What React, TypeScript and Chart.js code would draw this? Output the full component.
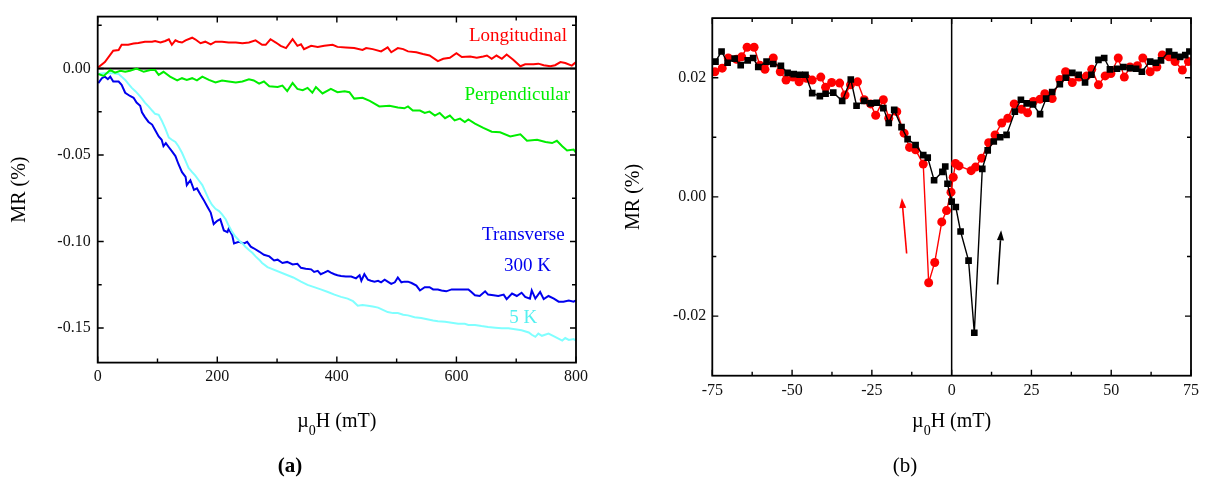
import React, { useEffect, useRef } from "react";
import { Chart, registerables } from "chart.js";

Chart.register(...registerables);

const SERIF = '"Liberation Serif", "Times New Roman", serif';

// ---------- Panel (a): MR vs field up to 800 mT ----------
const longitudinal: [number, number][] = [
  [0, 0.0004], [12, 0.0037], [26, 0.0103], [35, 0.0107], [40, 0.0137], [51, 0.0137], [60, 0.0144],
  [68, 0.0148], [79, 0.0155], [91, 0.0155], [96, 0.0159], [105, 0.015], [113, 0.0159], [119, 0.0169],
  [124, 0.0137], [130, 0.0163], [135, 0.0155], [141, 0.015], [147, 0.0163], [158, 0.0178], [163, 0.0169],
  [172, 0.0146], [180, 0.0155], [189, 0.014], [197, 0.0155], [208, 0.0155], [219, 0.015], [231, 0.015],
  [242, 0.0146], [253, 0.015], [264, 0.0163], [275, 0.0137], [281, 0.0137], [289, 0.0169], [298, 0.015],
  [306, 0.0131], [315, 0.0118], [326, 0.0169], [334, 0.0131], [340, 0.014], [345, 0.0112], [357, 0.0131],
  [368, 0.0125], [379, 0.0131], [393, 0.0137], [401, 0.0125], [415, 0.0122], [429, 0.0118], [443, 0.0107],
  [449, 0.0118], [460, 0.0112], [474, 0.0099], [485, 0.0122], [491, 0.0094], [502, 0.0118], [511, 0.0112],
  [519, 0.0099], [533, 0.0094], [544, 0.0084], [555, 0.0075], [569, 0.0043], [578, 0.0056], [589, 0.0062],
  [600, 0.0088], [609, 0.0066], [623, 0.0069], [634, 0.0062], [645, 0.0069], [651, 0.0075], [659, 0.0056],
  [667, 0.0075], [676, 0.0056], [684, 0.0081], [695, 0.0051], [707, 0.0013], [715, 0.0024], [729, 0.0024],
  [737, 0.0028], [746, 0.0019], [757, 0.0013], [765, 0.0019], [774, 0.0037], [782, 0.0032], [793, 0.0017],
  [800, 0.0037],
];

const perpendicular: [number, number][] = [
  [1, -0.0032], [10, -0.0043], [21, -0.0009], [29, -0.0024], [38, -0.0013], [46, -0.0019], [54, -0.0013],
  [65, 0.0], [77, -0.0019], [88, -0.0009], [96, -0.0009], [102, -0.0037], [110, -0.0019], [121, -0.0047],
  [133, -0.0069], [141, -0.0056], [149, -0.0066], [158, -0.0056], [166, -0.0069], [175, -0.0047],
  [186, -0.0066], [197, -0.0081], [208, -0.0069], [219, -0.0075], [231, -0.0081], [242, -0.0075],
  [253, -0.0062], [261, -0.0069], [270, -0.0088], [278, -0.0075], [287, -0.0103], [301, -0.0107],
  [309, -0.0099], [317, -0.0131], [326, -0.0084], [334, -0.0118], [343, -0.0125], [351, -0.0112],
  [359, -0.014], [365, -0.0107], [376, -0.0144], [390, -0.0118], [401, -0.0137], [413, -0.0131],
  [421, -0.0137], [429, -0.0174], [443, -0.0169], [455, -0.0187], [471, -0.0219], [488, -0.0215],
  [502, -0.0225], [513, -0.023], [519, -0.0219], [527, -0.0243], [539, -0.0243], [547, -0.0257],
  [555, -0.0249], [564, -0.0272], [572, -0.0257], [581, -0.0287], [589, -0.0272], [597, -0.03],
  [606, -0.029], [614, -0.0309], [620, -0.0294], [631, -0.0318], [645, -0.0343], [659, -0.0365],
  [673, -0.0369], [690, -0.0393], [707, -0.038], [718, -0.0418], [735, -0.0412], [749, -0.0425],
  [760, -0.0431], [768, -0.0418], [777, -0.0449], [785, -0.0474], [796, -0.0468], [800, -0.0487],
];

const transverse300K: [number, number][] = [
  [1, -0.0084], [7, -0.0056], [12, -0.0047], [17, -0.0062], [21, -0.0047], [26, -0.0075], [35, -0.0075],
  [40, -0.0094], [46, -0.014], [54, -0.0159], [60, -0.0169], [65, -0.0197], [71, -0.0215], [74, -0.0253],
  [79, -0.0281], [85, -0.0309], [91, -0.0324], [96, -0.0356], [102, -0.0393], [107, -0.0412],
  [110, -0.0449], [114, -0.0431], [119, -0.0455], [124, -0.0478], [130, -0.0506], [135, -0.0552],
  [141, -0.0599], [147, -0.0627], [149, -0.0674], [155, -0.0646], [161, -0.0702], [166, -0.0693],
  [172, -0.073], [177, -0.0758], [183, -0.0796], [189, -0.0833], [194, -0.0899], [200, -0.088],
  [205, -0.0871], [211, -0.0936], [217, -0.0946], [219, -0.0927], [225, -0.0964], [228, -0.1011],
  [236, -0.1002], [245, -0.1011], [250, -0.1002], [256, -0.103], [261, -0.1039], [270, -0.1058],
  [278, -0.1077], [287, -0.1086], [295, -0.111], [301, -0.1105], [309, -0.1124], [317, -0.1118],
  [326, -0.1133], [334, -0.1129], [340, -0.1152], [348, -0.1157], [357, -0.1161], [362, -0.1176],
  [368, -0.117], [373, -0.1189], [379, -0.118], [385, -0.117], [390, -0.118], [396, -0.1189],
  [401, -0.1195], [407, -0.1199], [415, -0.1202], [424, -0.1202], [432, -0.1213], [438, -0.1195],
  [441, -0.1227], [446, -0.1189], [452, -0.1221], [457, -0.1227], [463, -0.1232], [469, -0.1227],
  [474, -0.1236], [480, -0.1221], [485, -0.1232], [491, -0.1245], [497, -0.1236], [502, -0.1208],
  [508, -0.1236], [513, -0.1232], [519, -0.1232], [525, -0.124], [533, -0.1255], [539, -0.1283],
  [547, -0.1264], [555, -0.1264], [561, -0.1277], [569, -0.1277], [575, -0.1283], [583, -0.1288],
  [592, -0.1277], [603, -0.1277], [614, -0.1277], [620, -0.1277], [625, -0.1292], [631, -0.1311],
  [639, -0.1315], [648, -0.1288], [653, -0.1307], [662, -0.1311], [670, -0.1315], [679, -0.1307],
  [684, -0.1333], [693, -0.1301], [701, -0.1315], [709, -0.1296], [715, -0.132], [723, -0.133],
  [726, -0.1283], [732, -0.133], [740, -0.1292], [746, -0.1333], [754, -0.1315], [763, -0.133],
  [771, -0.1348], [779, -0.1348], [788, -0.1341], [796, -0.1348], [800, -0.1341],
];

const transverse5K: [number, number][] = [
  [1, -0.0032], [10, -0.0028], [18, -0.0028], [26, -0.0028], [35, -0.0032], [40, -0.0047], [46, -0.0066],
  [51, -0.0088], [57, -0.0112], [63, -0.0131], [68, -0.015], [74, -0.0174], [79, -0.0197], [85, -0.0219],
  [91, -0.0243], [96, -0.0262], [102, -0.0268], [107, -0.03], [113, -0.0346], [119, -0.0399],
  [124, -0.0412], [130, -0.0425], [135, -0.0449], [141, -0.0487], [147, -0.0534], [152, -0.0575],
  [158, -0.0599], [163, -0.0618], [169, -0.0646], [175, -0.0674], [180, -0.0712], [186, -0.0758],
  [191, -0.0787], [197, -0.0811], [203, -0.0824], [208, -0.0843], [214, -0.0871], [219, -0.0908],
  [225, -0.0946], [231, -0.0974], [236, -0.0993], [242, -0.1011], [247, -0.103], [253, -0.1049],
  [259, -0.1067], [264, -0.1086], [270, -0.1105], [275, -0.1124], [284, -0.1148], [327, -0.1208],
  [340, -0.1232], [351, -0.1251], [362, -0.1264], [373, -0.1277], [385, -0.1292], [396, -0.1307],
  [407, -0.132], [418, -0.133], [427, -0.1345], [435, -0.1371], [443, -0.1367], [452, -0.1371],
  [460, -0.1376], [469, -0.1382], [477, -0.1395], [485, -0.1408], [494, -0.1414], [502, -0.1414],
  [511, -0.1423], [519, -0.1427], [530, -0.1438], [541, -0.1442], [553, -0.1451], [561, -0.1457],
  [569, -0.1461], [581, -0.1464], [592, -0.147], [603, -0.1476], [614, -0.1476], [620, -0.1483],
  [631, -0.1483], [642, -0.1489], [653, -0.1494], [665, -0.1498], [676, -0.1502], [687, -0.1502],
  [698, -0.1507], [709, -0.1513], [721, -0.1526], [726, -0.1539], [732, -0.1551], [737, -0.1532],
  [743, -0.1545], [754, -0.1532], [765, -0.1551], [777, -0.1573], [782, -0.1558], [788, -0.1569],
  [796, -0.1564], [800, -0.1573],
];

const aXRange = [0, 800];
const aYRange = [-0.17, 0.03];
const aXMajor = [0, 200, 400, 600, 800];
const aXMinor = [100, 300, 500, 700];
const aYMajor = [0, -0.05, -0.1, -0.15];
const aYMinor = [0.025, -0.025, -0.075, -0.125];

// ---------- Panel (b): low-field hysteresis ----------
const sweepUp: [number, number][] = [
  [-74.0, 0.0227], [-72.1, 0.0244], [-70.2, 0.0225], [-68.0, 0.0232], [-66.1, 0.0221], [-63.9, 0.0229],
  [-62.2, 0.0233], [-60.6, 0.0218], [-58.0, 0.0227], [-55.9, 0.0223], [-53.5, 0.022], [-51.4, 0.0208],
  [-49.5, 0.0206], [-47.6, 0.0205], [-45.8, 0.0205], [-43.7, 0.0174], [-41.3, 0.0169], [-39.5, 0.0173],
  [-37.1, 0.0175], [-34.3, 0.0161], [-31.6, 0.0197], [-29.8, 0.0153], [-27.4, 0.0161], [-25.4, 0.0157],
  [-23.5, 0.0158], [-21.4, 0.0149], [-19.7, 0.0124], [-18.0, 0.0146], [-15.7, 0.0117], [-13.8, 0.0097],
  [-11.3, 0.0087], [-8.9, 0.007], [-7.5, 0.0066], [-5.5, 0.0028], [-2.9, 0.0042], [-2.0, 0.0051],
  [-1.3, 0.0022], [0.0, -0.0008], [1.3, -0.0017], [2.8, -0.0058], [5.3, -0.0107], [7.1, -0.0228],
  [9.6, 0.0047], [11.3, 0.0078], [13.2, 0.0093], [15.2, 0.01], [17.2, 0.0104], [19.8, 0.0143],
  [21.7, 0.0163], [23.5, 0.0157], [25.5, 0.0155], [27.7, 0.0139], [29.6, 0.0165], [31.5, 0.0176],
  [33.9, 0.0189], [35.8, 0.02], [37.8, 0.0208], [39.8, 0.0205], [41.8, 0.0192], [43.8, 0.0205],
  [46.0, 0.023], [47.8, 0.0233], [49.6, 0.0214], [51.8, 0.0215], [53.8, 0.0218], [55.9, 0.0216],
  [57.8, 0.0215], [59.6, 0.021], [62.2, 0.0227], [64.0, 0.0225], [65.6, 0.0229], [68.1, 0.0244],
  [69.8, 0.0238], [71.6, 0.0235], [73.2, 0.0238], [74.5, 0.0244],
];

const sweepDown: [number, number][] = [
  [74.2, 0.0227], [72.3, 0.0213], [70.0, 0.0227], [68.1, 0.0235], [66.0, 0.0238], [64.3, 0.0218],
  [62.2, 0.021], [59.9, 0.0233], [58.2, 0.022], [55.9, 0.0218], [54.1, 0.0201], [52.2, 0.0233],
  [49.9, 0.0207], [48.1, 0.0203], [46.0, 0.0188], [43.9, 0.0214], [42.3, 0.0203], [39.9, 0.0201],
  [37.8, 0.0192], [35.7, 0.021], [33.9, 0.0197], [31.5, 0.0165], [29.2, 0.0173], [27.7, 0.0164],
  [25.6, 0.016], [23.8, 0.0141], [21.9, 0.0147], [19.6, 0.0156], [17.6, 0.0132], [15.7, 0.0124],
  [13.6, 0.0104], [11.6, 0.0091], [9.4, 0.0065], [7.5, 0.005], [6.1, 0.0044], [2.3, 0.0052],
  [1.2, 0.0056], [0.5, 0.0033], [-0.2, 0.0008], [-1.6, -0.0023], [-3.1, -0.0042], [-5.3, -0.011],
  [-7.2, -0.0144], [-8.9, 0.0055], [-11.3, 0.0079], [-13.2, 0.0083], [-14.9, 0.0107], [-17.2, 0.0143],
  [-19.7, 0.0132], [-21.4, 0.0163], [-23.8, 0.0137], [-25.4, 0.0156], [-27.4, 0.0163], [-29.5, 0.0193],
  [-31.7, 0.0188], [-33.4, 0.0171], [-35.1, 0.0191], [-37.6, 0.0192], [-39.5, 0.0184], [-41.0, 0.0201],
  [-43.7, 0.0196], [-45.5, 0.0199], [-47.8, 0.0193], [-49.7, 0.0201], [-51.9, 0.0196], [-53.7, 0.021],
  [-55.9, 0.0233], [-58.5, 0.0214], [-60.1, 0.0221], [-61.9, 0.0251], [-64.1, 0.0251], [-65.8, 0.0235],
  [-67.4, 0.0231], [-70.0, 0.0233], [-71.9, 0.0216], [-74.2, 0.021],
];

const bXRange = [-75, 75];
const bYRange = [-0.03, 0.03];
const bXMajor = [-75, -50, -25, 0, 25, 50, 75];
const bXMinor = [-62.5, -37.5, -12.5, 12.5, 37.5, 62.5];
const bYMajor = [0.02, 0, -0.02];
const bYMinor = [0.01, -0.01];

// ---------- helpers ----------
const toXY = (arr: [number, number][]) => arr.map(([x, y]) => ({ x, y }));

const axisX = (range: number[], major: number[], fmt: (v: number) => string, height: number, pad: number) => ({
  type: "linear",
  position: "bottom",
  min: range[0],
  max: range[1],
  grid: { display: false, drawTicks: false },
  border: { display: false },
  afterBuildTicks: (s: any) => {
    s.ticks = major.map((v) => ({ value: v }));
  },
  afterFit: (s: any) => {
    s.height = height;
  },
  ticks: {
    font: { family: SERIF, size: 16 },
    color: "#111",
    padding: pad,
    maxRotation: 0,
    autoSkip: false,
    callback: (v: any) => fmt(Number(v)),
  },
});

const axisY = (range: number[], major: number[], fmt: (v: number) => string, width: number, pad: number) => ({
  type: "linear",
  position: "left",
  min: range[0],
  max: range[1],
  grid: { display: false, drawTicks: false },
  border: { display: false },
  afterBuildTicks: (s: any) => {
    s.ticks = major.map((v) => ({ value: v }));
  },
  afterFit: (s: any) => {
    s.width = width;
  },
  ticks: {
    font: { family: SERIF, size: 16 },
    color: "#111",
    padding: pad,
    autoSkip: false,
    callback: (v: any) => fmt(Number(v)),
  },
});

type Note = { text: string; color: string; x: number; y: number };
type Arrow = { color: string; from: [number, number]; to: [number, number] };

function drawFieldTitle(ctx: CanvasRenderingContext2D, cx: number, baseline: number) {
  const big = `20px ${SERIF}`;
  const small = `14px ${SERIF}`;
  ctx.font = big;
  const w1 = ctx.measureText("µ").width;
  const w3 = ctx.measureText("H (mT)").width;
  ctx.font = small;
  const w2 = ctx.measureText("0").width;
  let x = cx - (w1 + w2 + w3) / 2;
  ctx.fillStyle = "#000";
  ctx.textAlign = "left";
  ctx.textBaseline = "alphabetic";
  ctx.font = big;
  ctx.fillText("µ", x, baseline);
  x += w1;
  ctx.font = small;
  ctx.fillText("0", x, baseline + 8);
  x += w2;
  ctx.font = big;
  ctx.fillText("H (mT)", x, baseline);
}

const decor = (o: any) => ({
  id: "decor_" + o.key,
  beforeDatasetsDraw(chart: any) {
    const { ctx, chartArea: a, scales } = chart;
    ctx.save();
    ctx.strokeStyle = "#000";
    ctx.lineWidth = o.refWidth;
    ctx.beginPath();
    if (o.ref === "h") {
      const py = scales.y.getPixelForValue(0);
      ctx.moveTo(a.left, py);
      ctx.lineTo(a.right, py);
    } else {
      const px = scales.x.getPixelForValue(0);
      ctx.moveTo(px, a.top);
      ctx.lineTo(px, a.bottom);
    }
    ctx.stroke();
    ctx.restore();
  },
  afterDraw(chart: any) {
    const { ctx, chartArea: a, scales } = chart;
    const xs = scales.x;
    const ys = scales.y;
    ctx.save();
    // frame
    ctx.strokeStyle = "#000";
    ctx.lineWidth = o.frameWidth;
    ctx.strokeRect(a.left, a.top, a.right - a.left, a.bottom - a.top);
    // inward ticks on all four sides
    ctx.lineWidth = 1.4;
    ctx.beginPath();
    const tx = (v: number, len: number) => {
      const p = xs.getPixelForValue(v);
      ctx.moveTo(p, a.bottom);
      ctx.lineTo(p, a.bottom - len);
      ctx.moveTo(p, a.top);
      ctx.lineTo(p, a.top + len);
    };
    const ty = (v: number, len: number) => {
      const p = ys.getPixelForValue(v);
      ctx.moveTo(a.left, p);
      ctx.lineTo(a.left + len, p);
      ctx.moveTo(a.right, p);
      ctx.lineTo(a.right - len, p);
    };
    o.xMajor.forEach((v: number) => tx(v, 6));
    o.xMinor.forEach((v: number) => tx(v, 4));
    o.yMajor.forEach((v: number) => ty(v, 6));
    o.yMinor.forEach((v: number) => ty(v, 4));
    ctx.stroke();

    // in-plot notes
    ctx.font = `19px ${SERIF}`;
    ctx.textAlign = "right";
    ctx.textBaseline = "alphabetic";
    (o.notes as Note[]).forEach((n) => {
      ctx.fillStyle = n.color;
      ctx.fillText(n.text, xs.getPixelForValue(n.x), ys.getPixelForValue(n.y));
    });

    // arrows
    (o.arrows as Arrow[]).forEach((ar) => {
      const x0 = xs.getPixelForValue(ar.from[0]);
      const y0 = ys.getPixelForValue(ar.from[1]);
      const x1 = xs.getPixelForValue(ar.to[0]);
      const y1 = ys.getPixelForValue(ar.to[1]);
      const ang = Math.atan2(y1 - y0, x1 - x0);
      const hl = 10;
      const hw = 3.5;
      const bx = x1 - hl * Math.cos(ang);
      const by = y1 - hl * Math.sin(ang);
      ctx.strokeStyle = ar.color;
      ctx.fillStyle = ar.color;
      ctx.lineWidth = 1.6;
      ctx.beginPath();
      ctx.moveTo(x0, y0);
      ctx.lineTo(bx, by);
      ctx.stroke();
      ctx.beginPath();
      ctx.moveTo(x1, y1);
      ctx.lineTo(bx + hw * Math.sin(ang), by - hw * Math.cos(ang));
      ctx.lineTo(bx - hw * Math.sin(ang), by + hw * Math.cos(ang));
      ctx.closePath();
      ctx.fill();
    });

    // axis titles
    drawFieldTitle(ctx, (a.left + a.right) / 2, 427);
    ctx.save();
    ctx.translate(o.yTitleX, (a.top + a.bottom) / 2);
    ctx.rotate(-Math.PI / 2);
    ctx.fillStyle = "#000";
    ctx.font = `20px ${SERIF}`;
    ctx.textAlign = "center";
    ctx.textBaseline = "middle";
    ctx.fillText("MR (%)", 0, 0);
    ctx.restore();

    // sub-caption
    ctx.fillStyle = "#000";
    ctx.font = `${o.captionBold ? "bold " : ""}21px ${SERIF}`;
    ctx.textAlign = "center";
    ctx.textBaseline = "alphabetic";
    ctx.fillText(o.caption, o.captionX, 472);
    ctx.restore();
  },
});

const lineSet = (data: [number, number][], color: string) => ({
  data: toXY(data),
  showLine: true,
  borderColor: color,
  backgroundColor: color,
  borderWidth: 2,
  pointRadius: 0,
  tension: 0,
});

function buildA(): any {
  return {
    type: "scatter",
    data: {
      datasets: [
        lineSet(longitudinal, "#ff0000"),
        lineSet(perpendicular, "#00ee00"),
        lineSet(transverse5K, "#80ffff"),
        lineSet(transverse300K, "#0000ee"),
      ],
    },
    options: {
      animation: false,
      responsive: false,
      devicePixelRatio: 1,
      events: [],
      layout: { padding: { left: 0, right: 34, top: 6.6, bottom: 0 } },
      plugins: { legend: { display: false }, tooltip: { enabled: false } },
      scales: {
        x: axisX(aXRange, aXMajor, (v) => String(v), 116.4, 5),
        y: axisY(aYRange, aYMajor, (v) => v.toFixed(2), 97.7, 7),
      },
    },
    plugins: [
      decor({
        key: "a",
        ref: "h",
        refWidth: 1.8,
        frameWidth: 1.8,
        xMajor: aXMajor,
        xMinor: aXMinor,
        yMajor: aYMajor,
        yMinor: aYMinor,
        notes: [
          { text: "Longitudinal", color: "#ff0000", x: 785, y: 0.0157 },
          { text: "Perpendicular", color: "#00ee00", x: 790, y: -0.018 },
          { text: "Transverse", color: "#0000ee", x: 781, y: -0.0989 },
          { text: "300 K", color: "#0000ee", x: 758, y: -0.1169 },
          { text: "5 K", color: "#55f0f0", x: 735, y: -0.1472 },
        ],
        arrows: [],
        yTitleX: 20,
        caption: "(a)",
        captionBold: true,
        captionX: 290,
      }),
    ],
  };
}

function buildB(): any {
  return {
    type: "scatter",
    data: {
      datasets: [
        {
          data: toXY(sweepUp),
          showLine: true,
          borderColor: "#000",
          backgroundColor: "#000",
          borderWidth: 1.4,
          pointStyle: "rect",
          pointRadius: 4.7,
          pointBorderWidth: 0,
          tension: 0,
          clip: 0,
        },
        {
          data: toXY(sweepDown),
          showLine: true,
          borderColor: "#ff0000",
          backgroundColor: "#ff0000",
          borderWidth: 1.4,
          pointStyle: "circle",
          pointRadius: 4.5,
          pointBorderWidth: 0,
          tension: 0,
          clip: 0,
        },
      ],
    },
    options: {
      animation: false,
      responsive: false,
      devicePixelRatio: 1,
      events: [],
      layout: { padding: { left: 0, right: 16, top: 18.1, bottom: 0 } },
      plugins: { legend: { display: false }, tooltip: { enabled: false } },
      scales: {
        x: axisX(bXRange, bXMajor, (v) => String(v), 103.3, 5),
        y: axisY(bYRange, bYMajor, (v) => v.toFixed(2), 102.3, 6),
      },
    },
    plugins: [
      decor({
        key: "b",
        ref: "v",
        refWidth: 1.5,
        frameWidth: 1.8,
        xMajor: bXMajor,
        xMinor: bXMinor,
        yMajor: bYMajor,
        yMinor: bYMinor,
        notes: [],
        arrows: [
          { color: "#ff0000", from: [-14.1, -0.0095], to: [-15.6, -0.0002] },
          { color: "#000000", from: [14.4, -0.0147], to: [15.5, -0.0056] },
        ],
        yTitleX: 24,
        caption: "(b)",
        captionBold: false,
        captionX: 295,
      }),
    ],
  };
}

function Panel({ build, left, width }: { build: () => any; left: number; width: number }) {
  const ref = useRef<HTMLCanvasElement>(null);
  useEffect(() => {
    const chart = new Chart(ref.current as HTMLCanvasElement, build());
    return () => chart.destroy();
  }, []);
  return (
    <canvas
      ref={ref}
      width={width}
      height={479}
      style={{ position: "absolute", left, top: 0, width, height: 479, display: "block" }}
    />
  );
}

export default function App() {
  return (
    <div
      style={{
        position: "absolute",
        left: 0,
        top: 0,
        width: 1207,
        height: 479,
        background: "#fff",
        overflow: "hidden",
      }}
    >
      <Panel build={buildA} left={0} width={610} />
      <Panel build={buildB} left={610} width={597} />
    </div>
  );
}
